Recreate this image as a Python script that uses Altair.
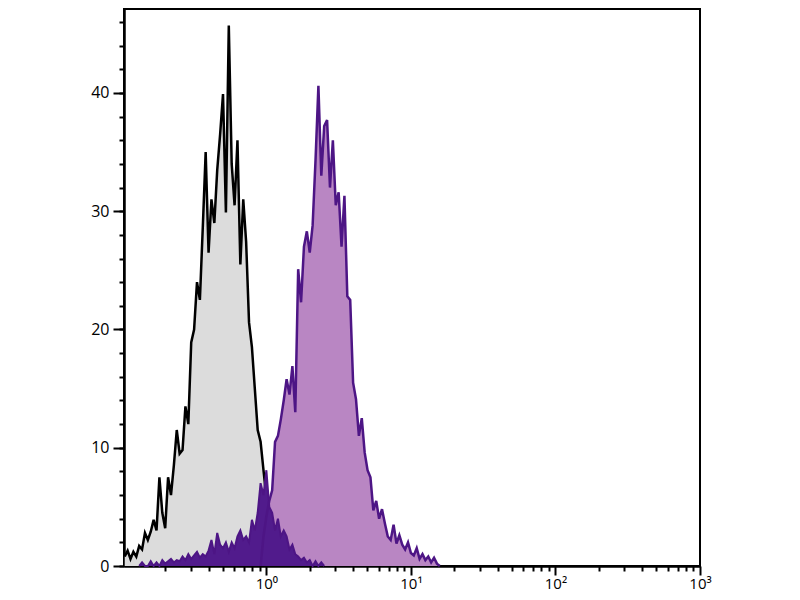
import altair as alt
import pandas as pd

# histogram bins: log10 channel value of bin k = LOG_START + LOG_STEP * k
LOG_START = -0.98
LOG_STEP = 0.02

# isotype control (grey)
isotype_start = 0
isotype_counts = [0.8, 1.3, 0.6, 1.2, 0.8, 1.7, 1.4, 2.8, 2.2, 2.9,
                  3.9, 3.0, 7.5, 4.5, 3.2, 7.5, 6.0, 8.5, 11.5, 9.5,
                  9.8, 13.5, 12.0, 18.9, 20.0, 24.0, 22.5, 28.6, 35.0, 26.5,
                  31.0, 29.0, 33.5, 36.5, 39.9, 29.9, 45.7, 34.0, 30.5, 36.0,
                  25.5, 31.0, 27.4, 20.6, 18.5, 15.0, 11.5, 10.5, 8.1, 5.8,
                  3.5, 0.8, 0.5, 0.2, 0.0]

# stained sample (purple)
stained_start = 47
stained_counts = [0.0, 2.5, 4.2, 5.5, 6.4, 10.5, 11.0, 12.4, 14.0, 15.8,
                  14.5, 16.9, 13.0, 25.1, 22.3, 27.0, 28.3, 26.5, 28.8, 34.3,
                  40.6, 33.0, 37.2, 37.7, 32.0, 36.0, 30.5, 31.6, 27.0, 31.3,
                  22.8, 22.5, 15.5, 14.1, 11.0, 12.5, 9.6, 8.1, 7.5, 4.7,
                  5.5, 4.0, 4.8, 3.6, 2.5, 2.2, 3.5, 1.9, 2.6, 1.8,
                  1.4, 2.0, 1.1, 0.9, 1.5, 0.6, 1.0, 0.5, 0.8, 0.3,
                  0.7, 0.2, 0.0]

# low-intensity part of the stained sample (dark purple)
low_start = 5
low_counts = [0.0, 0.3, 0.0, 0.0, 0.4, 0.0, 0.3, 0.0, 0.5, 0.2,
              0.4, 0.6, 0.3, 0.5, 0.4, 0.8, 0.5, 1.0, 0.6, 0.9,
              1.2, 0.7, 1.0, 0.8, 1.3, 2.2, 1.0, 2.8, 1.8, 1.5,
              2.0, 1.2, 2.0, 1.5, 2.5, 3.0, 2.2, 2.5, 2.0, 3.9,
              3.0, 4.5, 7.0, 6.0, 8.1, 5.0, 4.5, 3.0, 4.0, 2.5,
              3.0, 2.5, 1.4, 1.8, 1.0, 0.8, 0.5, 0.7, 0.3, 0.5,
              0.0, 0.4, 0.0, 0.3, 0.0]

y_major = [0, 10, 20, 30, 40]
y_minor = [0, 2, 4, 6, 8, 10, 12, 14, 16, 18, 20, 22, 24, 26, 28, 30,
           32, 34, 36, 38, 40, 42, 44, 46]
x_major = [1, 10, 100, 1000]
x_minor = [0.2, 0.3, 0.4, 0.5, 0.6, 0.7, 0.8, 0.9,
           2, 3, 4, 5, 6, 7, 8, 9,
           20, 30, 40, 50, 60, 70, 80, 90,
           200, 300, 400, 500, 600, 700, 800, 900]
x_label_expr = ("datum.value == 1 ? '10\u2070' : datum.value == 10 ? '10\u00b9' : "
                "datum.value == 100 ? '10\u00b2' : '10\u00b3'")


def frame(start, counts):
    return pd.DataFrame({
        "x": [10 ** (LOG_START + LOG_STEP * (start + k)) for k in range(len(counts))],
        "count": counts,
    })


iso = frame(isotype_start, isotype_counts)
stained = frame(stained_start, stained_counts)
low = frame(low_start, low_counts)

xs = alt.Scale(type="log", domain=[10 ** -0.985, 1000], nice=False)
ys = alt.Scale(domain=[0, 47.1], nice=False, zero=True)

major_x = alt.Axis(values=x_major, labelExpr=x_label_expr, tickSize=9, labelPadding=1,
                   title=None, grid=False, orient="bottom", labelFlush=False,
                   labelFontSize=15)
minor_x = alt.Axis(values=x_minor, labels=False, tickSize=5, title=None, grid=False,
                   orient="bottom")
major_y = alt.Axis(values=y_major, tickSize=11, labelPadding=4, title=None, grid=False,
                   orient="left", labelFlush=False)
minor_y = alt.Axis(values=y_minor, labels=False, tickSize=5, title=None, grid=False,
                   orient="left")

PURPLE_FILL = "#b986c3"
PURPLE_LINE = "#4d1585"
DARK_FILL = "#511b8c"

iso_area = alt.Chart(iso).mark_area(color="#dcdcdc", interpolate="linear").encode(
    x=alt.X("x:Q", scale=xs, axis=major_x),
    y=alt.Y("count:Q", scale=ys, axis=major_y),
)
minor_axes = alt.Chart(iso).mark_line(opacity=0).encode(
    x=alt.X("x:Q", scale=xs, axis=minor_x),
    y=alt.Y("count:Q", scale=ys, axis=minor_y),
)
stained_area = alt.Chart(stained).mark_area(color=PURPLE_FILL, interpolate="linear").encode(
    x=alt.X("x:Q", scale=xs, axis=None),
    y=alt.Y("count:Q", scale=ys, axis=None),
)
iso_line = alt.Chart(iso).mark_line(color="black", strokeWidth=2.5).encode(
    x=alt.X("x:Q", scale=xs, axis=None),
    y=alt.Y("count:Q", scale=ys, axis=None),
)
low_area = alt.Chart(low).mark_area(color=DARK_FILL, interpolate="linear").encode(
    x=alt.X("x:Q", scale=xs, axis=None),
    y=alt.Y("count:Q", scale=ys, axis=None),
)
low_line = alt.Chart(low).mark_line(color=PURPLE_LINE, strokeWidth=2).encode(
    x=alt.X("x:Q", scale=xs, axis=None),
    y=alt.Y("count:Q", scale=ys, axis=None),
)
stained_line = alt.Chart(stained).mark_line(color=PURPLE_LINE, strokeWidth=2.5).encode(
    x=alt.X("x:Q", scale=xs, axis=None),
    y=alt.Y("count:Q", scale=ys, axis=None),
)

chart = (
    alt.layer(iso_area, minor_axes, stained_area, iso_line, low_area, low_line, stained_line)
    .resolve_axis(x="independent", y="independent")
    .properties(
        width=576,
        height=557,
        autosize=alt.AutoSizeParams(type="none"),
        padding={"left": 116, "top": 1, "right": 92, "bottom": 26},
        background="white",
    )
    .configure_axis(
        domainColor="black", domainWidth=2, tickColor="black", tickWidth=2,
        labelColor="black", labelFont="Open Sans", labelFontSize=16,
    )
    .configure_view(stroke="black", strokeWidth=2)
)

chart.save("out.html", embed_options={"renderer": "svg", "actions": False})
